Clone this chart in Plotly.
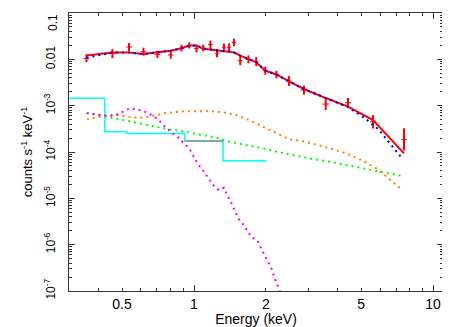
import math
import plotly.graph_objects as go

# ---------------- data ----------------
# red data set (counts s^-1 keV^-1)
energy = [0.355, 0.4557, 0.5348, 0.6142, 0.7031, 0.7991, 0.8857, 0.9548, 1.0234, 1.0926,
          1.1711, 1.248, 1.334, 1.401, 1.469, 1.561, 1.689, 1.820, 1.986, 2.212,
          2.494, 2.884, 3.555, 4.406, 5.607, 7.554]
rate = [0.0105, 0.0133, 0.0184, 0.0146, 0.0128, 0.0124, 0.0175, 0.0199, 0.0171, 0.0175,
        0.0209, 0.0135, 0.0182, 0.0182, 0.0231, 0.00933, 0.0100, 0.00895, 0.00567, 0.0047,
        0.0034, 0.00217, 0.00108, 0.00116, 0.000449, 0.000187]
err_dex = [0.086, 0.097, 0.086, 0.086, 0.080, 0.080, 0.071, 0.065, 0.082, 0.071,
           0.086, 0.086, 0.082, 0.082, 0.082, 0.097, 0.086, 0.097, 0.086, 0.082,
           0.108, 0.097, 0.130, 0.102, 0.145, 0.240]
e_halfwidth = [0.010, 0.013, 0.015, 0.017, 0.019, 0.021, 0.020, 0.020, 0.022, 0.024,
               0.025, 0.026, 0.025, 0.026, 0.030, 0.035, 0.040, 0.040, 0.050, 0.060,
               0.070, 0.090, 0.110, 0.130, 0.160, 0.200]
# folded model for red data set
model = [0.01207, 0.01403, 0.01403, 0.0130, 0.01416, 0.01535, 0.0173, 0.0199, 0.0200, 0.01694,
         0.0163, 0.01542, 0.01496, 0.01466, 0.01403, 0.01207, 0.01005, 0.00865, 0.0057, 0.00472,
         0.00335, 0.00229, 0.00146, 0.000957, 0.000489, 0.0000933]

# total model (blue dotted)
blue_e = [0.355, 0.4557, 0.5348, 0.6142, 0.7031, 0.7991, 0.8857, 0.9548, 1.0234, 1.0926,
          1.1711, 1.248, 1.334, 1.401, 1.469, 1.561, 1.689, 1.820, 1.986, 2.212,
          2.494, 2.884, 3.555, 4.406, 5.176, 5.607, 5.938, 6.378, 6.864, 7.369]
blue_v = [0.0108, 0.01403, 0.01403, 0.0130, 0.01416, 0.01535, 0.0173, 0.0199, 0.0200, 0.01694,
          0.0163, 0.01542, 0.01496, 0.01466, 0.01403, 0.01207, 0.01005, 0.00865, 0.0057, 0.00472,
          0.00335, 0.00229, 0.00146, 0.00093, 0.000538, 0.000386, 0.000301, 0.000189, 0.000121, 0.0000759]

# orange component
orange_e = [0.3568, 0.3994, 0.4470, 0.4764, 0.5331, 0.5967, 0.6674, 0.7467, 0.8857, 1.0463,
            1.1711, 1.366, 1.504, 1.710, 2.008, 2.357, 2.513, 2.767, 2.952, 3.579,
            4.340, 5.092, 5.792, 6.585, 7.298]
orange_v = [5.06e-4, 5.76e-4, 6.26e-4, 6.26e-4, 5.76e-4, 5.48e-4, 5.96e-4, 6.82e-4, 7.53e-4, 7.64e-4,
            7.64e-4, 7.03e-4, 6.26e-4, 4.82e-4, 3.24e-4, 2.13e-4, 1.87e-4, 1.75e-4, 1.64e-4, 1.26e-4,
            9.33e-5, 6.46e-5, 4.43e-5, 2.56e-5, 1.64e-5]

# green component
green_e = [0.3568, 0.3994, 0.4470, 0.4999, 0.5596, 0.6298, 0.7070, 0.7913, 0.8857, 0.9875,
           1.1088, 1.248, 1.410, 1.657, 1.944, 2.283, 2.681, 3.146, 3.694, 4.340,
           5.092, 5.979, 7.482]
green_v = [7.03e-4, 6.26e-4, 5.58e-4, 5.06e-4, 4.36e-4, 3.94e-4, 3.50e-4, 3.07e-4, 2.83e-4, 2.52e-4,
           2.24e-4, 2.03e-4, 1.66e-4, 1.41e-4, 1.20e-4, 9.8e-5, 8.15e-5, 7.03e-5, 6.14e-5, 5.21e-5,
           4.43e-5, 3.87e-5, 3.02e-5]

# magenta component
magenta_e = [0.355, 0.4100, 0.4440, 0.4736, 0.5008, 0.5385, 0.5786, 0.6191, 0.6637, 0.7070,
             0.7467, 0.8067, 0.8571, 0.9143, 0.9594, 1.0067, 1.0392, 1.0801, 1.1160, 1.1552,
             1.1893, 1.2326, 1.2808, 1.3350, 1.3661, 1.4102, 1.4475, 1.4799, 1.5425, 1.6032,
             1.6568, 1.7100, 1.7770, 1.8418, 1.8957, 1.9569, 2.0201, 2.1077, 2.1758, 2.2461,
             2.327]
magenta_v = [6.82e-4, 6.16e-4, 5.96e-4, 6.35e-4, 7.27e-4, 8.75e-4, 8.32e-4, 7.53e-4, 6.26e-4, 5.06e-4,
             3.81e-4, 2.60e-4, 2.07e-4, 1.48e-4, 1.16e-4, 7.28e-5, 5.48e-5, 4.28e-5, 3.33e-5, 2.60e-5,
             2.10e-5, 1.64e-5, 1.50e-5, 1.69e-5, 1.28e-5, 9.47e-6, 7.13e-6, 5.37e-6, 3.50e-6, 2.77e-6,
             2.06e-6, 1.66e-6, 1.36e-6, 1.25e-6, 8.96e-7, 6.45e-7, 4.62e-7, 3.06e-7, 1.86e-7, 1.23e-7,
             7.8e-8]

# cyan data set (binned) and its grey model
cyan_edges = [0.29, 0.4235, 0.5232, 0.9143, 1.3225, 2.008]
cyan_vals = [1.44e-3, 2.73e-4, 2.52e-4, 1.72e-4, 6.46e-5]
cyan_err_e = [0.4736, 0.6120, 1.1088, 1.672]
cyan_err_v = [2.73e-4, 2.52e-4, 1.72e-4, 6.46e-5]
cyan_err_dex = [0.02, 0.02, 0.02, 0.02]
grey_edges = [0.9143, 1.3225]
grey_vals = [1.72e-4]

# axis ticks
x_tick_vals = [0.5, 1, 2, 5, 10]
x_tick_text = ["0.5", "1", "2", "5", "10"]
x_minor_vals = [0.3, 0.4, 0.6, 0.7, 0.8, 0.9, 3, 4, 6, 7, 8, 9]
x_long_vals = [1, 10]
y_tick_vals = [1e-7, 1e-6, 1e-5, 1e-4, 1e-3, 1e-2, 1e-1]
y_tick_text = ["10<sup>-7</sup>", "10<sup>-6</sup>", "10<sup>-5</sup>", "10<sup>-4</sup>",
               "10<sup>-3</sup>", "0.01", ""]
y_top_val = 1e-1
y_top_text = "0.1"

# ---------------- figure ----------------
FONT = "Liberation Sans, Arial, Helvetica, sans-serif"
fig = go.Figure()

err_plus = [r * (10 ** d - 1) for r, d in zip(rate, err_dex)]
err_minus = [r * (1 - 10 ** -d) for r, d in zip(rate, err_dex)]

fig.add_trace(go.Scatter(
    x=energy, y=rate, mode="markers", marker=dict(size=0.1, color="red", opacity=0),
    error_y=dict(type="data", symmetric=False, array=err_plus, arrayminus=err_minus,
                 color="#ff0000", thickness=2, width=0),
    error_x=dict(type="data", array=e_halfwidth, color="#ff0000", thickness=1, width=0),
    showlegend=False, hoverinfo="skip"))

fig.add_trace(go.Scatter(x=energy, y=model, mode="lines",
                         line=dict(color="#ff0000", width=2), showlegend=False))

# cyan step
cx = list(cyan_edges)
cy = list(cyan_vals) + [cyan_vals[-1]]
fig.add_trace(go.Scatter(x=cx, y=cy, mode="lines", line=dict(color="#00ffff", width=1.5, shape="hv"),
                         showlegend=False))
c_plus = [v * (10 ** d - 1) for v, d in zip(cyan_err_v, cyan_err_dex)]
c_minus = [v * (1 - 10 ** -d) for v, d in zip(cyan_err_v, cyan_err_dex)]
fig.add_trace(go.Scatter(
    x=cyan_err_e, y=cyan_err_v, mode="markers", marker=dict(size=0.1, opacity=0),
    error_y=dict(type="data", symmetric=False, array=c_plus, arrayminus=c_minus,
                 color="#00ffff", thickness=1, width=0),
    showlegend=False, hoverinfo="skip"))

gx = list(grey_edges)
gy = list(grey_vals) + [grey_vals[-1]]
fig.add_trace(go.Scatter(x=gx, y=gy, mode="lines", line=dict(color="#909090", width=1.5, shape="hv"),
                         showlegend=False))

DOT = "2px,4px"
fig.add_trace(go.Scatter(x=orange_e, y=orange_v, mode="lines",
                         line=dict(color="#ff8000", width=2, dash=DOT), showlegend=False))
fig.add_trace(go.Scatter(x=green_e, y=green_v, mode="lines",
                         line=dict(color="#00ff00", width=2, dash=DOT), showlegend=False))
fig.add_trace(go.Scatter(x=magenta_e, y=magenta_v, mode="lines",
                         line=dict(color="#ff00ff", width=2, dash=DOT), showlegend=False))
fig.add_trace(go.Scatter(x=blue_e, y=blue_v, mode="lines",
                         line=dict(color="#0000ff", width=2, dash=DOT), showlegend=False))

# empty trace to anchor overlay axis for long decade ticks
fig.add_trace(go.Scatter(x=[], y=[], xaxis="x2", showlegend=False))

# the page body has an 8px default margin, so the figure is sized/offset to compensate
xrange = [math.log10(0.3), math.log10(11)]
fig.update_layout(
    width=442, height=319,
    margin=dict(l=61, r=7, t=5, b=36, autoexpand=False),
    paper_bgcolor="white", plot_bgcolor="white",
    font=dict(family=FONT, color="black"),
    showlegend=False,
    xaxis=dict(
        type="log", range=xrange, automargin=False,
        tickvals=x_tick_vals, ticktext=x_tick_text,
        ticks="inside", ticklen=3, tickwidth=1, tickcolor="#333",
        showline=True, linecolor="#333", linewidth=1, mirror="ticks",
        showgrid=False, zeroline=False,
        minor=dict(tickvals=x_minor_vals, ticks="inside", ticklen=3, tickcolor="#333", showgrid=False),
        tickfont=dict(size=14, family=FONT),
        title=dict(text="Energy (keV)", font=dict(size=14, family=FONT), standoff=2),
    ),
    xaxis2=dict(
        type="log", range=xrange, overlaying="x", anchor="y", automargin=False,
        tickvals=x_long_vals, showticklabels=False,
        ticks="inside", ticklen=6, tickwidth=1, tickcolor="#333",
        showline=False, mirror="ticks", showgrid=False, zeroline=False, side="bottom",
    ),
    yaxis=dict(
        type="log", range=[-7, -1], automargin=False,
        tickvals=y_tick_vals, ticktext=y_tick_text, tickangle=-90,
        ticks="inside", ticklen=6, tickwidth=1, tickcolor="#333",
        showline=True, linecolor="#333", linewidth=1, mirror="ticks",
        showgrid=False, zeroline=False,
        minor=dict(ticks="inside", ticklen=3, tickcolor="#333", showgrid=False,
                   tickvals=[m * 10 ** k for k in range(-7, -1) for m in range(2, 10)]),
        tickfont=dict(size=12, family=FONT),
        ticklabelstandoff=8,
        title=dict(text="counts s<sup>-1</sup> keV<sup>-1</sup>", font=dict(size=13, family=FONT), standoff=6),
    ),
    annotations=[dict(
        text=y_top_text, xref="paper", x=0, yref="y", y=math.log10(y_top_val),
        xanchor="center", yanchor="middle", xshift=-16, yshift=-10,
        textangle=-90, showarrow=False, font=dict(size=12, family=FONT, color="black"),
    )],
)

fig.write_html("out.html")
